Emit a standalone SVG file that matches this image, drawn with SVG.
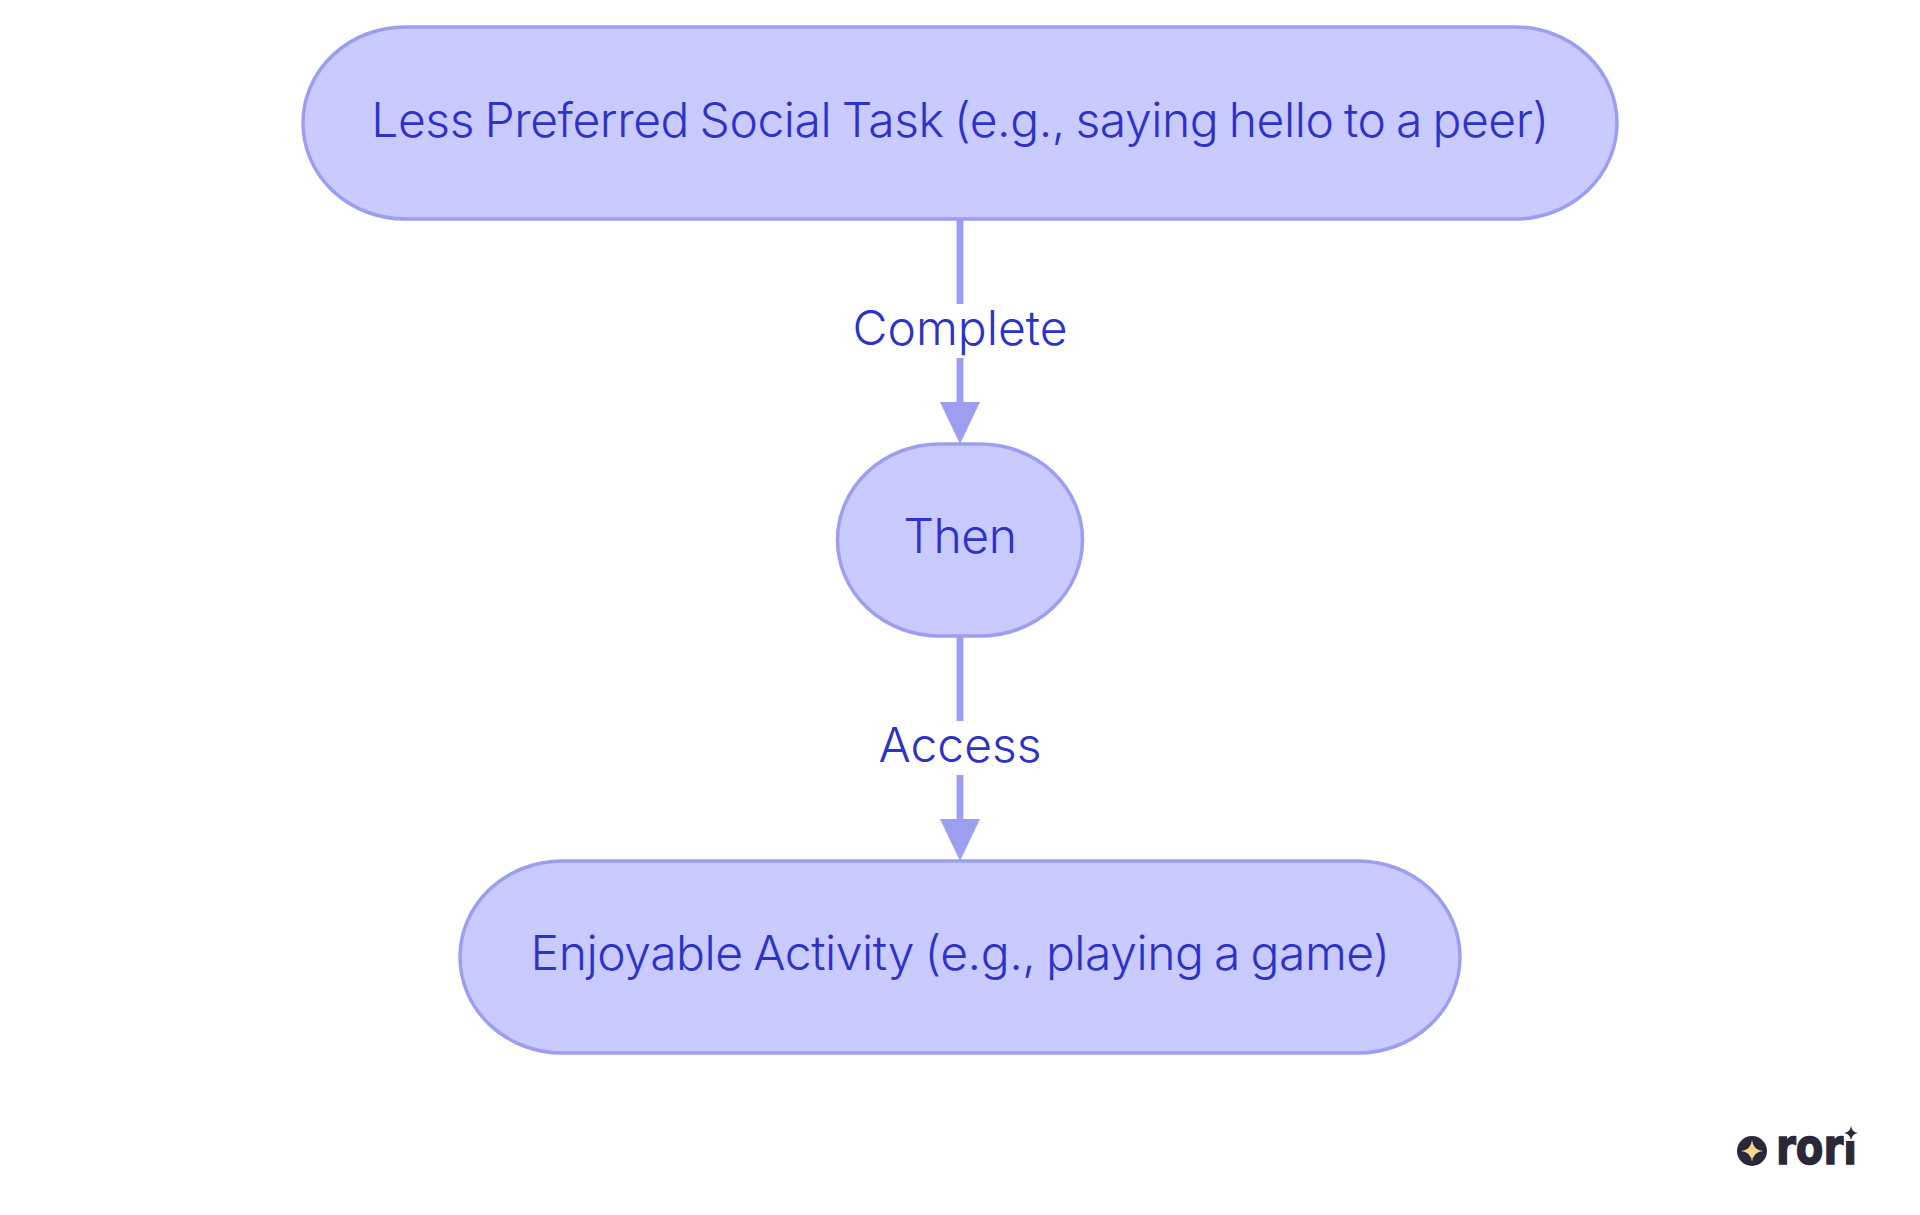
<svg xmlns="http://www.w3.org/2000/svg" width="1920" height="1215" viewBox="0 0 1920 1215">
<style>
.n{fill:#c9caff;stroke:#9c9ff0;stroke-width:3.5}
.t{font-family:"Inter","Noto Sans",sans-serif;font-size:48px;font-weight:350;fill:#2d32c8;text-anchor:middle;letter-spacing:-.45px;word-spacing:-2.5px}
.l{letter-spacing:0}
.c{fill:none;stroke:#9c9ff0;stroke-width:7}
.d{fill:#2a2838}
</style>
<defs><marker id="a" markerUnits="userSpaceOnUse" markerWidth="44" markerHeight="42" refX="1" refY="20" orient="auto"><path d="M0,0L42,20L0,40Z" fill="#9c9ff0"/></marker></defs>
<rect width="1920" height="1215" fill="#fff"/>
<g id="connectors">
<path class="c" d="M960,220V403" marker-end="url(#a)"/>
<path class="c" d="M960,636V820" marker-end="url(#a)"/>
</g>
<g id="label-complete"><rect x="850" y="304" width="220" height="54" fill="#fff"/><text class="t l" x="960" y="345">Complete</text></g>
<g id="label-access"><rect x="875" y="721" width="170" height="54" fill="#fff"/><text class="t l" x="960" y="762">Access</text></g>
<g id="n1"><rect class="n" x="303" y="27" width="1314" height="192" rx="102" ry="96"/><text class="t" x="960" y="137">Less Preferred Social Task (e.g., saying hello to a peer)</text></g>
<g id="n2"><rect class="n" x="837.5" y="444" width="245" height="192" rx="102" ry="96"/><text class="t" x="960" y="553">Then</text></g>
<g id="n3"><rect class="n" x="460" y="861" width="1000" height="192" rx="102" ry="96"/><text class="t" x="960" y="970">Enjoyable Activity (e.g., playing a game)</text></g>
<g id="logo">
<circle class="d" cx="1752" cy="1151" r="15"/>
<path d="M1752,1140Q1753,1150 1763,1151Q1753,1152 1752,1162Q1751,1152 1741,1151Q1751,1150 1752,1140Z" fill="#fbd98a"/>
<text class="d" x="1776" y="1164" font-family="DejaVu Sans" font-weight="700" font-size="50" textLength="81" lengthAdjust="spacingAndGlyphs" stroke="#2a2838" stroke-width="1.5">rori</text>
<rect x="1844" y="1118" width="18" height="23" fill="#fff"/>
<path class="d" d="M1851,1126Q1852,1132 1858,1133Q1852,1134 1851,1140Q1850,1134 1844,1133Q1850,1132 1851,1126Z"/>
</g>
</svg>
